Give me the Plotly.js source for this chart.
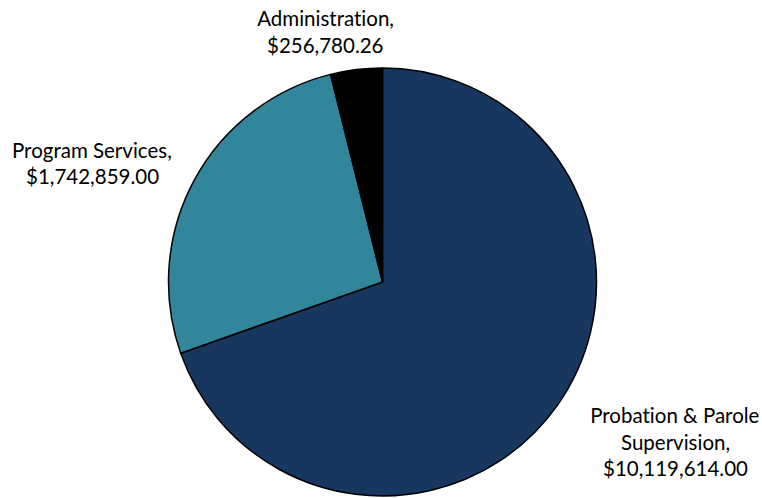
<!DOCTYPE html>
<html>
<head>
<meta charset="utf-8">
<script src="https://cdn.plot.ly/plotly-3.0.1.min.js"></script>
<style>html,body{margin:0;padding:0;background:#fff;}#chart{width:762px;height:498px;}
#chart text{font-variant-ligatures:none;font-feature-settings:"liga" 0,"clig" 0;}</style>
</head>
<body>
<div id="chart"></div>
<script>
// Categories and their labelled amounts
const categories = ["Probation & Parole Supervision", "Program Services", "Administration"];
const amountLabels = ["$10,119,614.00", "$1,742,859.00", "$256,780.26"];
// Slice shares as drawn in the picture (percent of the circle)
const sliceShares = [69.6, 26.5, 3.9];
const sliceColors = ["#17375E", "#31869B", "#000000"];
// Label text lines as shown
const labelLines = [
  ["Probation & Parole", "Supervision,", "$10,119,614.00"],
  ["Program Services,", "$1,742,859.00"],
  ["Administration,", "$256,780.26"]
];
// Label anchor positions (pixels: center x, first-line y)
const labelPos = [[675, 415], [92, 150], [325, 18]];

const W = 762, H = 498;
const annotations = [];
labelLines.forEach((lines, i) => {
  lines.forEach((t, j) => {
    annotations.push({
      text: t, showarrow: false,
      xref: 'paper', yref: 'paper',
      x: labelPos[i][0] / W, y: 1 - (labelPos[i][1] + j * 26.5) / H,
      xanchor: 'center', yanchor: 'middle',
      font: {family: 'Lato, "Open Sans", sans-serif', size: 20.5, color: '#000'}
    });
  });
});

const cx = 382.5, cy = 282, r = 214;
const trace = {
  type: 'pie',
  labels: categories,
  values: sliceShares,
  text: amountLabels,
  sort: false,
  direction: 'clockwise',
  rotation: 0,
  textinfo: 'none',
  hoverinfo: 'label+text',
  marker: {colors: sliceColors, line: {color: '#000', width: 1.5}},
  domain: {x: [(cx - r) / W, (cx + r) / W], y: [1 - (cy + r) / H, 1 - (cy - r) / H]}
};

Plotly.newPlot('chart', [trace], {
  width: W, height: H,
  margin: {l: 0, r: 0, t: 0, b: 0},
  showlegend: false,
  paper_bgcolor: '#fff',
  annotations: annotations
}, {displayModeBar: false, staticPlot: true});
</script>
</body>
</html>
